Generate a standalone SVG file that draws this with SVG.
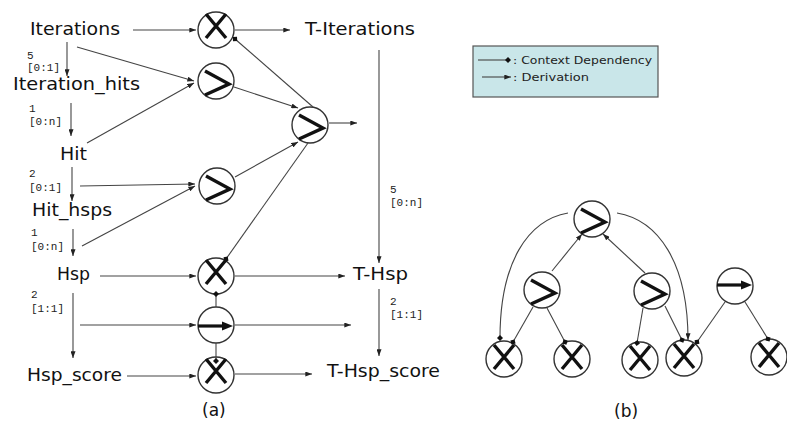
<svg xmlns="http://www.w3.org/2000/svg" xmlns:xlink="http://www.w3.org/1999/xlink" width="787" height="423" viewBox="0 0 787 423">
  <style>
    .lbl { font-family: "DejaVu Sans", "Liberation Sans", sans-serif; font-size: 17px; fill: #111; }
    .card { font-family: "Liberation Mono", "DejaVu Sans Mono", monospace; font-size: 11px; fill: #222; }
    .leg { font-family: "DejaVu Sans", "Liberation Sans", sans-serif; font-size: 11px; fill: #222; }
    .op { fill: #fff; stroke: #333; stroke-width: 1.4; }
    .glyph { fill: none; stroke: #111; stroke-width: 3.4; stroke-linecap: butt; stroke-linejoin: miter; }
    .der { fill: none; stroke: #444; stroke-width: 1.1; marker-end: url(#arr); }
    .ctx { fill: none; stroke: #444; stroke-width: 1.1; marker-end: url(#dep); }
  </style>
  <defs>
    <marker id="arr" viewBox="0 0 8 6" refX="8" refY="3" markerWidth="7" markerHeight="5" markerUnits="userSpaceOnUse" orient="auto">
      <path d="M0,0 L8,3 L0,6 z" fill="#222"/>
    </marker>
    <marker id="dep" viewBox="0 0 6 6" refX="3" refY="3" markerWidth="6" markerHeight="6" markerUnits="userSpaceOnUse" orient="auto">
      <path d="M3,0 L6,3 L3,6 L0,3 z" fill="#111"/>
    </marker>
    <!-- operator glyphs, drawn around the node centre -->
    <g id="g-join">
      <path class="glyph" d="M-10,-16 L10,8 M10,-16 L-10,8"/>
    </g>
    <g id="g-gt">
      <path class="glyph" d="M-11,-10 L13,3 L-11,14"/>
    </g>
    <g id="g-seq">
      <line x1="-18" y1="0" x2="8" y2="0" stroke="#111" stroke-width="3.2"/>
      <path d="M6,-4.5 L17,0 L6,4.5 z" fill="#111"/>
    </g>
  </defs>

  <rect width="787" height="423" fill="#fff"/>

  <!-- ===== panel (a): schema nodes ===== -->
  <g id="n-iterations"><text class="lbl" x="30" y="35" textLength="90" lengthAdjust="spacingAndGlyphs">Iterations</text></g>
  <g id="n-iteration-hits"><text class="lbl" x="13" y="90" textLength="127" lengthAdjust="spacingAndGlyphs">Iteration_hits</text></g>
  <g id="n-hit"><text class="lbl" x="60" y="160" textLength="27" lengthAdjust="spacingAndGlyphs">Hit</text></g>
  <g id="n-hit-hsps"><text class="lbl" x="32" y="216" textLength="80" lengthAdjust="spacingAndGlyphs">Hit_hsps</text></g>
  <g id="n-hsp"><text class="lbl" x="57" y="280" textLength="33" lengthAdjust="spacingAndGlyphs">Hsp</text></g>
  <g id="n-hsp-score"><text class="lbl" x="27" y="381" textLength="95" lengthAdjust="spacingAndGlyphs">Hsp_score</text></g>
  <g id="n-t-iterations"><text class="lbl" x="305" y="35" textLength="110" lengthAdjust="spacingAndGlyphs">T-Iterations</text></g>
  <g id="n-t-hsp"><text class="lbl" x="353" y="280" textLength="55" lengthAdjust="spacingAndGlyphs">T-Hsp</text></g>
  <g id="n-t-hsp-score"><text class="lbl" x="327" y="377" textLength="113" lengthAdjust="spacingAndGlyphs">T-Hsp_score</text></g>

  <!-- cardinalities -->
  <g id="cards">
    <text class="card" x="27" y="59">5</text><text class="card" x="27" y="71">[0:1]</text>
    <text class="card" x="29" y="112">1</text><text class="card" x="29" y="125">[0:n]</text>
    <text class="card" x="29" y="177">2</text><text class="card" x="29" y="191">[0:1]</text>
    <text class="card" x="31" y="236">1</text><text class="card" x="31" y="250">[0:n]</text>
    <text class="card" x="31" y="298">2</text><text class="card" x="31" y="312">[1:1]</text>
    <text class="card" x="390" y="193">5</text><text class="card" x="390" y="206">[0:n]</text>
    <text class="card" x="390" y="305">2</text><text class="card" x="390" y="318">[1:1]</text>
  </g>

  <!-- panel (a): operator nodes -->
  <g id="op-a-join-iter"><circle class="op" cx="216" cy="30" r="18"/><use href="#g-join" x="216" y="30"/></g>
  <g id="op-a-gt-1"><circle class="op" cx="216" cy="81" r="18"/><use href="#g-gt" x="216" y="81"/></g>
  <g id="op-a-gt-2"><circle class="op" cx="217" cy="186" r="18"/><use href="#g-gt" x="217" y="186"/></g>
  <g id="op-a-gt-top"><circle class="op" cx="310" cy="125" r="18"/><use href="#g-gt" x="310" y="125"/></g>
  <g id="op-a-join-hsp"><circle class="op" cx="216" cy="276" r="18"/><use href="#g-join" x="216" y="276"/></g>
  <g id="op-a-seq"><circle class="op" cx="216" cy="325" r="18"/><use href="#g-seq" x="216" y="326"/></g>
  <g id="op-a-join-score"><circle class="op" cx="216" cy="375" r="18"/><use href="#g-join" x="216" y="375"/></g>

  <!-- panel (a): connectors -->
  <g id="edges-a">
    <line class="der" x1="133" y1="30" x2="196" y2="30"/>
    <line class="der" x1="235" y1="30" x2="290" y2="30"/>
    <line class="der" x1="77" y1="47" x2="194" y2="81"/>
    <line class="der" x1="87" y1="143" x2="194" y2="83"/>
    <line class="der" x1="67" y1="42" x2="67" y2="76"/>
    <line class="der" x1="71" y1="103" x2="71" y2="136"/>
    <line class="der" x1="72" y1="167" x2="72" y2="201"/>
    <line class="der" x1="80" y1="186" x2="195" y2="184"/>
    <line class="der" x1="82" y1="246" x2="195" y2="186"/>
    <line class="der" x1="73" y1="229" x2="73" y2="256"/>
    <line class="der" x1="100" y1="276" x2="196" y2="276"/>
    <line class="der" x1="73" y1="293" x2="73" y2="358"/>
    <line class="der" x1="80" y1="325" x2="196" y2="325"/>
    <line class="der" x1="127" y1="376" x2="196" y2="376"/>
    <line class="der" x1="234" y1="87" x2="298" y2="108"/>
    <line class="der" x1="235" y1="177" x2="298" y2="142"/>
    <line class="der" x1="329" y1="123" x2="357" y2="123"/>
    <line class="der" x1="235" y1="276" x2="345" y2="276"/>
    <line class="der" x1="235" y1="325" x2="351" y2="325"/>
    <line class="der" x1="235" y1="374" x2="312" y2="374"/>
    <line class="der" x1="379" y1="50" x2="379" y2="263"/>
    <line class="der" x1="379" y1="289" x2="379" y2="356"/>
    <line class="ctx" x1="313" y1="107" x2="235" y2="39"/>
    <line class="ctx" x1="308" y1="143" x2="226" y2="259"/>
    <line class="ctx" x1="216" y1="307" x2="216" y2="294"/>
    <line class="ctx" x1="216" y1="343" x2="216" y2="361"/>
  </g>

  <text class="lbl" x="202" y="416">(a)</text>

  <!-- legend -->
  <g id="legend">
    <rect x="473" y="46" width="185" height="51" fill="#c9e6e9" stroke="#555" stroke-width="1.2"/>
    <line class="ctx" x1="478" y1="60" x2="508" y2="60" stroke="#111"/>
    <text class="leg" x="513" y="64" textLength="139" lengthAdjust="spacingAndGlyphs">: Context Dependency</text>
    <line class="der" x1="482" y1="77" x2="511" y2="77" stroke="#111"/>
    <text class="leg" x="513" y="81" textLength="76" lengthAdjust="spacingAndGlyphs">: Derivation</text>
  </g>

  <!-- ===== panel (b) ===== -->
  <g id="op-b-gt-top"><circle class="op" cx="592" cy="219" r="18"/><use href="#g-gt" x="592" y="219"/></g>
  <g id="op-b-gt-left"><circle class="op" cx="542" cy="290" r="18"/><use href="#g-gt" x="542" y="290"/></g>
  <g id="op-b-gt-mid"><circle class="op" cx="652" cy="291" r="18"/><use href="#g-gt" x="652" y="291"/></g>
  <g id="op-b-seq"><circle class="op" cx="735" cy="286" r="18"/><use href="#g-seq" x="735" y="285"/></g>
  <g id="op-b-join-1"><circle class="op" cx="504" cy="359" r="18"/><use href="#g-join" x="504" y="361"/></g>
  <g id="op-b-join-2"><circle class="op" cx="572" cy="359" r="18"/><use href="#g-join" x="572" y="361"/></g>
  <g id="op-b-join-3"><circle class="op" cx="640" cy="360" r="18"/><use href="#g-join" x="640" y="362"/></g>
  <g id="op-b-join-4"><circle class="op" cx="684" cy="358" r="18"/><use href="#g-join" x="684" y="360"/></g>
  <g id="op-b-join-5"><circle class="op" cx="769" cy="357" r="18"/><use href="#g-join" x="769" y="359"/></g>

  <g id="edges-b">
    <line class="der" x1="552" y1="271" x2="582" y2="234"/>
    <line class="der" x1="645" y1="273" x2="603" y2="234"/>
    <path class="ctx" d="M568,213 C528,220 500,262 500,338"/>
    <path class="der" d="M617,213 C658,220 688,262 688,340"/>
    <line class="ctx" x1="533" y1="307" x2="513" y2="342"/>
    <line class="ctx" x1="547" y1="308" x2="565" y2="342"/>
    <line class="ctx" x1="643" y1="308" x2="637" y2="343"/>
    <line class="ctx" x1="665" y1="306" x2="682" y2="340"/>
    <line class="ctx" x1="725" y1="302" x2="697" y2="342"/>
    <line class="ctx" x1="745" y1="302" x2="768" y2="339"/>
  </g>

  <text class="lbl" x="614" y="417">(b)</text>
</svg>
